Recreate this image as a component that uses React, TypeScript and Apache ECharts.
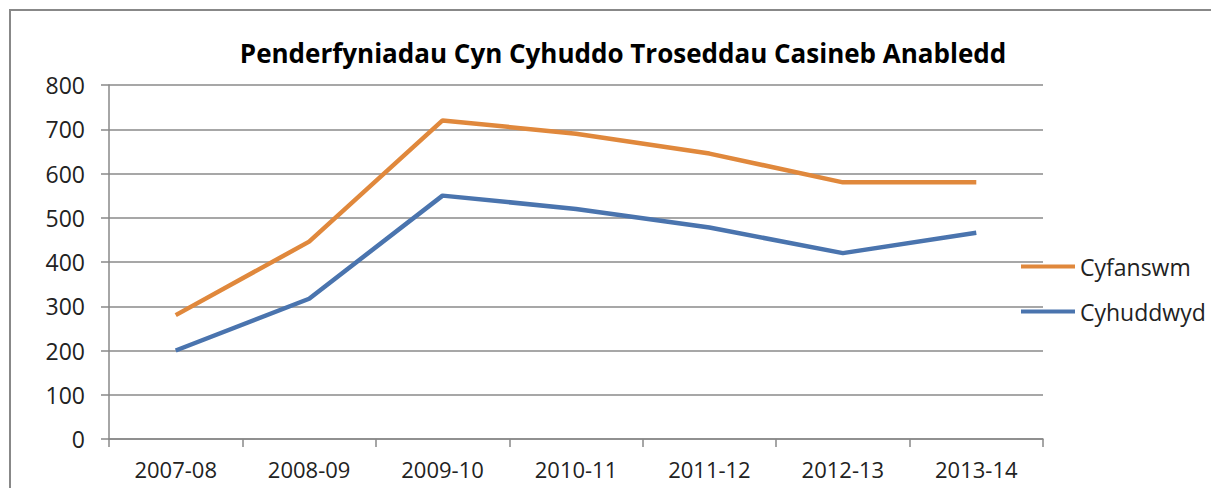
import React, { useEffect, useRef } from "react";
import * as echarts from "echarts";

const categories = ["2007-08", "2008-09", "2009-10", "2010-11", "2011-12", "2012-13", "2013-14"];
const cyfanswm = [280, 446, 720, 690, 645, 580, 580];
const cyhuddwyd = [200, 317, 550, 520, 478, 420, 466];
const yTicks = { min: 0, max: 800, interval: 100 };
const titleText = "Penderfyniadau Cyn Cyhuddo Troseddau Casineb Anabledd";

const FONT = "'Open Sans', 'Noto Sans', sans-serif";

export default function App() {
  const ref = useRef<HTMLDivElement>(null);
  useEffect(() => {
    document.body.style.margin = "0";
    const chart = echarts.init(ref.current!, null, { renderer: "svg" });
    chart.setOption({
      animation: false,
      backgroundColor: "#ffffff",
      textStyle: { fontFamily: FONT },
      title: {
        text: titleText,
        left: 618,
        textAlign: "center",
        top: 35,
        textStyle: { fontSize: 26, fontWeight: "bold", color: "#000", fontFamily: FONT },
      },
      graphic: [
        {
          type: "rect",
          shape: { x: 10, y: 10, width: 1230, height: 520 },
          style: { fill: "none", stroke: "#888888", lineWidth: 2 },
          silent: true,
        },
      ],
      grid: { left: 109, right: 168, top: 85, bottom: 49, containLabel: false },
      legend: {
        orient: "vertical",
        left: 1016,
        top: 250,
        itemWidth: 54,
        itemHeight: 4,
        itemGap: 22,
        icon: "rect",
        textStyle: { fontSize: 23, color: "#222", fontFamily: FONT },
        data: ["Cyfanswm", "Cyhuddwyd"],
      },
      xAxis: {
        type: "category",
        data: categories,
        boundaryGap: true,
        axisLine: { lineStyle: { color: "#888888", width: 1.5 } },
        axisTick: { show: true, length: 8, interval: 0, lineStyle: { color: "#888888", width: 1.5 } },
        axisLabel: { fontSize: 22, lineHeight: 22, color: "#222", margin: 19, interval: 0, fontFamily: FONT },
      },
      yAxis: {
        type: "value",
        min: yTicks.min,
        max: yTicks.max,
        interval: yTicks.interval,
        axisLine: { show: true, lineStyle: { color: "#888888", width: 1.5 } },
        axisTick: { show: true, length: 8, inside: false, lineStyle: { color: "#888888", width: 1.5 } },
        axisLabel: { fontSize: 23, color: "#222", margin: 24, fontFamily: FONT },
        splitLine: { show: true, lineStyle: { color: "#8a8a8a", width: 1.5 } },
      },
      series: [
        {
          name: "Cyfanswm",
          type: "line",
          data: cyfanswm,
          symbol: "none",
          lineStyle: { color: "#E0883C", width: 4.5 },
          itemStyle: { color: "#E0883C" },
        },
        {
          name: "Cyhuddwyd",
          type: "line",
          data: cyhuddwyd,
          symbol: "none",
          lineStyle: { color: "#4A74AE", width: 4.5 },
          itemStyle: { color: "#4A74AE" },
        },
      ],
    });
    return () => chart.dispose();
  }, []);
  return <div ref={ref} style={{ width: 1211, height: 488 }} />;
}
